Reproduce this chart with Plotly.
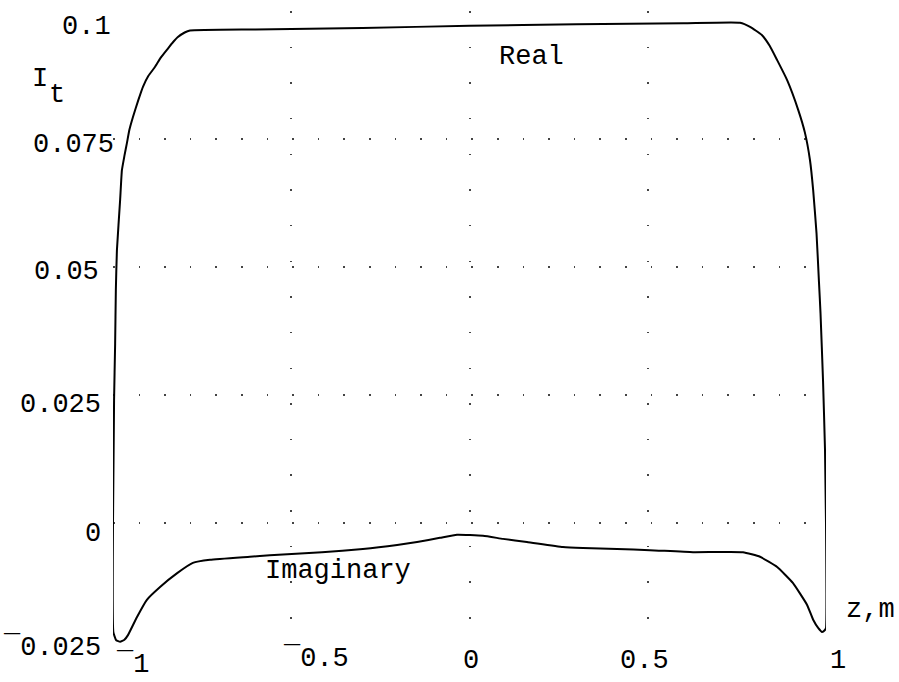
import plotly.graph_objects as go

# ---- data ----
real_z = [-1.0, -0.997, -0.994, -0.992, -0.989, -0.980, -0.975, -0.968, -0.961, -0.954,
          -0.944, -0.929, -0.916, -0.901, -0.882, -0.866, -0.849, -0.833, -0.818, -0.799,
          -0.784, -0.6, -0.3, 0.0, 0.3, 0.6, 0.759, 0.787, 0.820, 0.842, 0.863, 0.891,
          0.922, 0.941, 0.955, 0.964, 0.9734, 0.9804, 0.9846, 0.9916, 0.9972, 1.0]
real_v = [0.0, 0.024, 0.035, 0.0455, 0.0533, 0.0631, 0.0689, 0.0717, 0.0742, 0.0768,
          0.0793, 0.0826, 0.0852, 0.0873, 0.0891, 0.0909, 0.0924, 0.0938, 0.0949, 0.0958,
          0.0962, 0.0964, 0.0967, 0.0971, 0.0974, 0.0976, 0.0977, 0.0969, 0.0953, 0.0932,
          0.0904, 0.0865, 0.0807, 0.0762, 0.0709, 0.0650, 0.0566, 0.0469, 0.0410, 0.0279,
          0.0143, 0.0]

imag_z = [-1.0, -0.999, -0.991, -0.980, -0.968, -0.958, -0.933, -0.905, -0.868, -0.820,
          -0.776, -0.728, -0.616, -0.560, -0.414, -0.299, -0.203, -0.147, -0.083, -0.035,
          0.038, 0.094, 0.161, 0.262, 0.318, 0.414, 0.506, 0.627, 0.767, 0.815, 0.863,
          0.907, 0.947, 0.964, 0.978, 0.989, 0.997, 1.0, 1.0]
imag_v = [0.0, -0.0213, -0.0229, -0.0232, -0.0228, -0.0219, -0.0184, -0.0150, -0.0125,
          -0.0098, -0.0078, -0.0072, -0.0066, -0.0063, -0.0057, -0.0051, -0.0043, -0.0037,
          -0.0029, -0.0023, -0.0025, -0.0031, -0.0037, -0.0047, -0.0049, -0.0051, -0.0053,
          -0.0057, -0.0057, -0.0066, -0.0086, -0.0117, -0.0160, -0.0189, -0.0205, -0.0213,
          -0.0209, -0.0205, 0.0]

x_ticks = [-1, -0.5, 0, 0.5, 1]
x_ticktext = ["\u00af1", "\u00af0.5", "0", "0.5", "1"]
y_ticks = [0.1, 0.075, 0.05, 0.025, 0, -0.025]
y_ticktext = ["0.1", "0.075", "0.05", "0.025", "0", "\u00af0.025"]

# ---- styling / placement (pixel offsets of labels from their tick positions) ----
FONT = "Liberation Mono"
FS = 27
x_label_shift = [(19, -13), (25, -7), (1, -10), (-3, -10), (12, -10)]
y_label_shift = [(0, -16), (3, -6), (-12, -5), (-10, -10), (-10, -11), (-10, 4)]

fig = go.Figure()
fig.add_trace(go.Scatter(x=real_z, y=real_v, mode="lines",
                         line=dict(color="black", width=2, shape="spline", smoothing=0.4),
                         showlegend=False))
fig.add_trace(go.Scatter(x=imag_z, y=imag_v, mode="lines",
                         line=dict(color="black", width=2, shape="spline", smoothing=0.4),
                         showlegend=False))

grid_common = dict(showgrid=True, gridcolor="#444", gridwidth=1.5,
                   zeroline=False, showline=False, showticklabels=False, ticks="")
fig.update_xaxes(range=[-1.0, 1.0], tickvals=[-1, -0.5, 0, 0.5, 1],
                 griddash="1.5px,34.15px", **grid_common)
fig.update_yaxes(range=[-0.025, 0.1], tickvals=[-0.025, 0, 0.025, 0.05, 0.075, 0.1],
                 griddash="1.5px,24.1px", **grid_common)

ann = []
for v, t, (dx, dy) in zip(x_ticks, x_ticktext, x_label_shift):
    ann.append(dict(x=v, y=-0.025, xref="x", yref="y", text=t,
                    xanchor="center", yanchor="middle", xshift=dx, yshift=dy))
for v, t, (dx, dy) in zip(y_ticks, y_ticktext, y_label_shift):
    ann.append(dict(x=-1, y=v, xref="x", yref="y", text=t,
                    xanchor="right", yanchor="middle", xshift=dx, yshift=dy))
ann += [
    dict(x=0.1725, y=0.0910, xref="x", yref="y", text="Real",
         xanchor="center", yanchor="middle"),
    dict(x=-0.369, y=-0.0094, xref="x", yref="y", text="Imaginary",
         xanchor="center", yanchor="middle"),
    dict(x=1.063, y=0.064, xref="paper", yref="paper", text="z,m",
         xanchor="center", yanchor="middle"),
    dict(x=-0.1024, y=0.893, xref="paper", yref="paper", text="I",
         xanchor="center", yanchor="middle"),
    dict(x=-0.0780, y=0.868, xref="paper", yref="paper", text="t",
         xanchor="center", yanchor="middle"),
]
for a in ann:
    a["showarrow"] = False
    a["font"] = dict(family=FONT, size=FS, color="black")

fig.update_layout(width=899, height=682, margin=dict(l=113, r=73, t=11, b=31),
                  paper_bgcolor="white", plot_bgcolor="white",
                  annotations=ann, showlegend=False)
fig.write_html("out.html", config={"displayModeBar": False},
               post_script="document.body.style.margin='0';document.body.style.overflow='hidden';")
